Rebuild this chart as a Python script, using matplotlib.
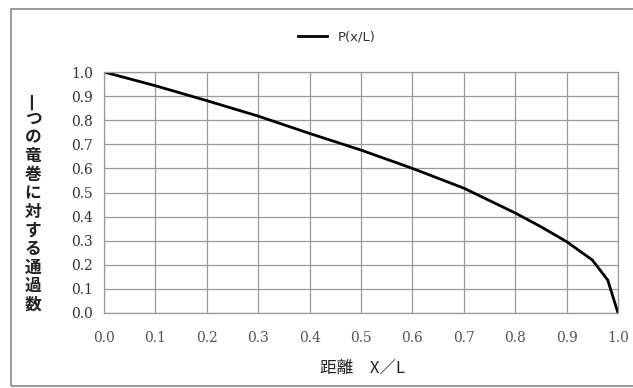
import matplotlib
matplotlib.use("Agg")
from matplotlib import pyplot as plt
from matplotlib.patches import Rectangle

plt.rcParams['font.family'] = ['Noto Sans CJK JP', 'DejaVu Sans']

# distance ratio x/L and P(x/L)
x_ratio = [0.0, 0.1, 0.2, 0.3, 0.4, 0.5, 0.6, 0.7, 0.8, 0.85, 0.9, 0.95, 0.98, 1.0]
p_values = [1.0, 0.943, 0.881, 0.817, 0.745, 0.676, 0.600, 0.518, 0.415, 0.358, 0.296, 0.220, 0.137, 0.0]

ticks = [i / 10 for i in range(11)]
tick_labels = ["%.1f" % t for t in ticks]

fig = plt.figure(figsize=(6.33, 3.88), dpi=100)
ax = fig.add_axes([104 / 633, 1 - 313 / 388, 514 / 633, 241 / 388])

ax.plot(x_ratio, p_values, color="black", lw=2, label="P(x/L)")

ax.set_xlim(0, 1)
ax.set_ylim(0, 1)
ax.set_xticks(ticks)
ax.set_yticks(ticks)
ax.set_xticklabels(tick_labels, family="DejaVu Serif", fontsize=10, color="#555555")
ax.set_yticklabels(tick_labels, family="DejaVu Serif", fontsize=10, color="#333333")
ax.tick_params(length=0, pad=8)
ax.tick_params(axis="x", pad=13)
ax.grid(True, color="#999999", lw=0.9)
for s in ax.spines.values():
    s.set_color("#999999")
    s.set_linewidth(0.9)

leg = fig.legend(loc="center", bbox_to_anchor=(337 / 633, 1 - 37 / 388), frameon=False,
                 handlelength=2.2, prop={'family': 'DejaVu Sans', 'size': 9.5})
for t in leg.get_texts():
    t.set_color("#333333")

# vertical y label, first char turned like the vertical writing in the original
fig.text(33 / 633, 1 - 102 / 388, "一", rotation=90, fontsize=12, fontweight="bold",
         color="#222222", ha="center", va="center")
fig.text(33 / 633, 1 - 212 / 388, "\n".join("つの竜巻に対する通過数"), fontsize=12,
         fontweight="bold", color="#222222", ha="center", va="center", linespacing=1.04)

fig.text(362 / 633, 1 - 368 / 388, "距離　X／L", fontsize=12, color="#222222",
         ha="center", va="center")

fig.patches.append(Rectangle((11 / 633, 1 - 386 / 388), 630 / 633, 377 / 388,
                             transform=fig.transFigure, fill=False,
                             edgecolor="#888888", lw=1.2))

fig.savefig("out.png", dpi=100)
